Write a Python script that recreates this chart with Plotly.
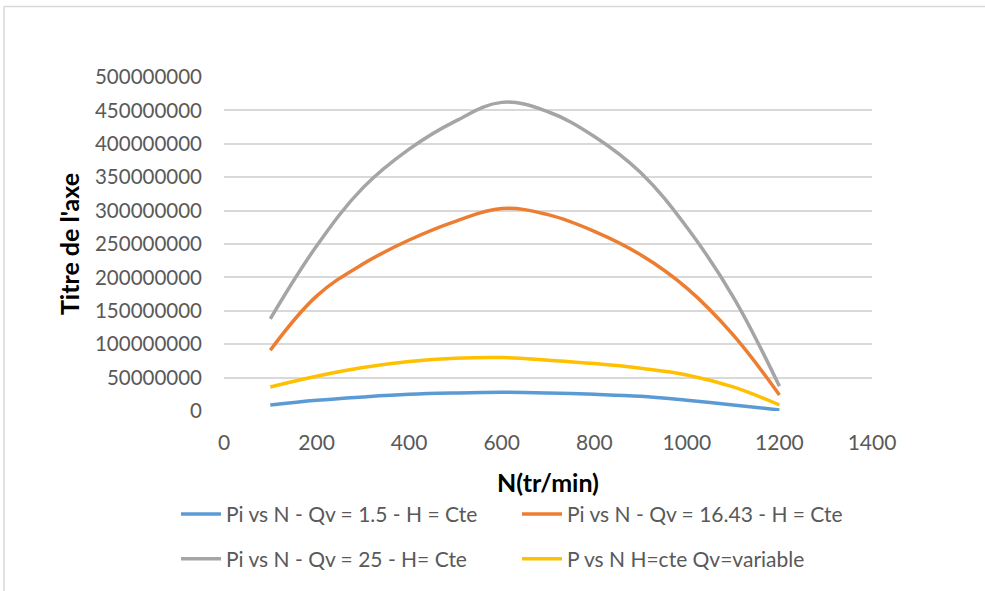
import plotly.graph_objects as go

N = [100, 200, 300, 400, 500, 600, 700, 800, 900, 1000, 1100, 1200]
pi_qv_1_5 = [9e6, 16e6, 21e6, 25e6, 27e6, 28e6, 27e6, 25e6, 22e6, 16e6, 9e6, 1.5e6]
pi_qv_16_43 = [91e6, 172e6, 220e6, 256e6, 284e6, 303e6, 294e6, 269e6, 234e6, 184e6, 114e6, 24e6]
pi_qv_25 = [138e6, 247e6, 334e6, 392e6, 434e6, 462e6, 448e6, 411e6, 357e6, 275e6, 171e6, 37e6]
p_qv_var = [36e6, 52e6, 65e6, 74e6, 79e6, 80e6, 76e6, 71e6, 64e6, 54e6, 36e6, 9e6]

names = ["Pi vs N - Qv = 1.5 - H = Cte", "Pi vs N - Qv = 16.43 - H = Cte",
         "Pi vs N - Qv = 25 - H= Cte", "P vs N H=cte Qv=variable"]
colors = ["#5B9BD5", "#ED7D31", "#A5A5A5", "#FFC000"]
series = [pi_qv_1_5, pi_qv_16_43, pi_qv_25, p_qv_var]
legends = ["legend", "legend", "legend2", "legend2"]

y_ticks = [0, 50000000, 100000000, 150000000, 200000000, 250000000,
           300000000, 350000000, 400000000, 450000000, 500000000]
x_ticks = [0, 200, 400, 600, 800, 1000, 1200, 1400]

FONT = "Lato"
W, H = 985, 591
L, R, T, B = 224, 113, 77, 178

fig = go.Figure()
for nm, col, ys, lg in zip(names, colors, series, legends):
    fig.add_trace(go.Scatter(x=N, y=ys, name=nm, mode="lines",
                             line=dict(color=col, width=3.5, shape="spline", smoothing=1.1),
                             legend=lg))

def px_to_paper_x(px):
    return (px - L) / (W - L - R)

def px_to_paper_y(py):
    return (H - B - py) / (H - T - B)

leg_font = dict(family=FONT, size=21, color="#595959")
fig.update_layout(
    width=W, height=H,
    margin=dict(l=L, r=R, t=T, b=B),
    paper_bgcolor="white", plot_bgcolor="white",
    font=dict(family=FONT, color="#595959"),
    xaxis=dict(range=[0, 1400], tickvals=x_ticks, showgrid=False, zeroline=False,
               showline=False, ticks="", tickfont=dict(size=21, color="#595959"),
               ticklabelstandoff=17,
               title=dict(text="<b>N(tr/min)</b>", font=dict(size=25, color="#000000"), standoff=21)),
    yaxis=dict(range=[0, 500000000], tickvals=y_ticks, tickformat="d",
               showgrid=True, gridcolor="#D9D9D9", gridwidth=1.5, zeroline=False,
               showline=False, ticks="", tickfont=dict(size=20.5, color="#595959"),
               ticklabelstandoff=21,
               title=dict(text="<b>Titre de l'axe</b>", font=dict(size=25, color="#000000"), standoff=8)),
    legend=dict(orientation="h", x=px_to_paper_x(176), y=px_to_paper_y(517), xanchor="left", yanchor="middle",
                font=leg_font, entrywidth=286, entrywidthmode="pixels", itemwidth=40,
                bgcolor="rgba(0,0,0,0)"),
    legend2=dict(orientation="h", x=px_to_paper_x(176), y=px_to_paper_y(562), xanchor="left", yanchor="middle",
                 font=leg_font, entrywidth=286, entrywidthmode="pixels", itemwidth=40,
                 bgcolor="rgba(0,0,0,0)"),
    showlegend=True,
)

# chart area border (top and left edges visible)
fig.add_shape(type="line", xref="paper", yref="paper",
              x0=px_to_paper_x(4), x1=px_to_paper_x(990), y0=px_to_paper_y(6), y1=px_to_paper_y(6),
              line=dict(color="#D9D9D9", width=1.5))
fig.add_shape(type="line", xref="paper", yref="paper",
              x0=px_to_paper_x(4), x1=px_to_paper_x(4), y0=px_to_paper_y(6), y1=px_to_paper_y(600),
              line=dict(color="#D9D9D9", width=1.5))

fig.write_html("out.html")
